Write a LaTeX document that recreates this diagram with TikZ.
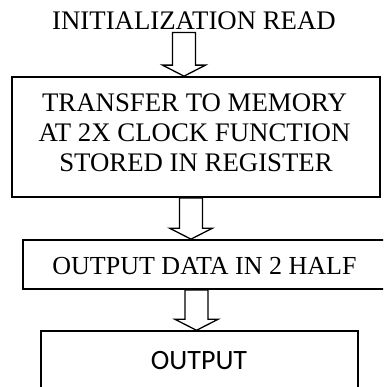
\documentclass[tikz,border=0pt]{standalone}
\usepackage{fontspec}
\setmainfont{Liberation Serif}
\newfontfamily\calibrifont{Carlito}
\usetikzlibrary{calc}
\tikzset{
  boxline/.style={draw=black, line width=1.7pt, fill=none},
  arrowline/.style={draw=black, line width=1.3pt, line join=miter},
  serif26/.style={font=\fontsize{26}{30}\selectfont, inner sep=0pt, anchor=base},
  serif27/.style={font=\fontsize{26.8}{30}\selectfont, inner sep=0pt, anchor=base},
}
% #1 = start coordinate (top of shaft), #2 = tip coordinate
\newcommand\myblockarrow[2]{%
  \draw[arrowline]
    ($(#1)+(-11.5,0)$) -- ($(#2)+(-11.5,-11)$) -- ($(#2)+(-21.5,-11)$) --
    (#2) -- ($(#2)+(21.5,-11)$) -- ($(#2)+(11.5,-11)$) --
    ($(#1)+(11.5,0)$) -- cycle;}
\begin{document}
\begin{tikzpicture}[x=1pt,y=-1pt]
\useasboundingbox (0,0) rectangle (383,387);
\clip (0,0) rectangle (383,387);
\fill[white] (0,0) rectangle (383,387);

% top label
\node[serif27] (init) at (194,30) {INITIALIZATION READ};

% box 1
\node[boxline, minimum width=368pt, minimum height=120pt, inner sep=0pt] (box1) at (196,137) {};
\node[serif27] (t1a) at (194.5,111.5) {TRANSFER TO MEMORY};
\node[serif27] (t1b) at (194.5,141.5) {AT 2X CLOCK FUNCTION};
\node[serif27] (t1c) at (196,171.5) {STORED IN REGISTER};

% box 2 (right edge runs off the picture)
\node[boxline, minimum width=364pt, minimum height=49pt, inner sep=0pt] (box2) at (205,264.5) {};
\node[serif26] (t2) at (204.5,274) {OUTPUT DATA IN 2 HALF};

% box 3 (bottom runs off the picture)
\node[draw=black, line width=1.4pt, minimum width=317pt, minimum height=70pt, inner sep=0pt] (box3) at (199.5,366) {};
\node[font=\calibrifont\fontsize{28}{32}\selectfont, inner sep=0pt, anchor=base] (t3) at (199,369) {OUTPUT};

% arrow coordinates
\coordinate (a1s) at (184,32.5);
\coordinate (a1e) at (box1.north -| a1s);
\coordinate (a2s) at (box1.south -| 191,0);
\coordinate (a2e) at (box2.north -| a2s);
\coordinate (a3s) at (box2.south -| 196.5,0);
\coordinate (a3e) at (box3.north -| a3s);

\myblockarrow{a1s}{a1e}
\myblockarrow{a2s}{a2e}
\myblockarrow{a3s}{a3e}
\end{tikzpicture}
\end{document}
